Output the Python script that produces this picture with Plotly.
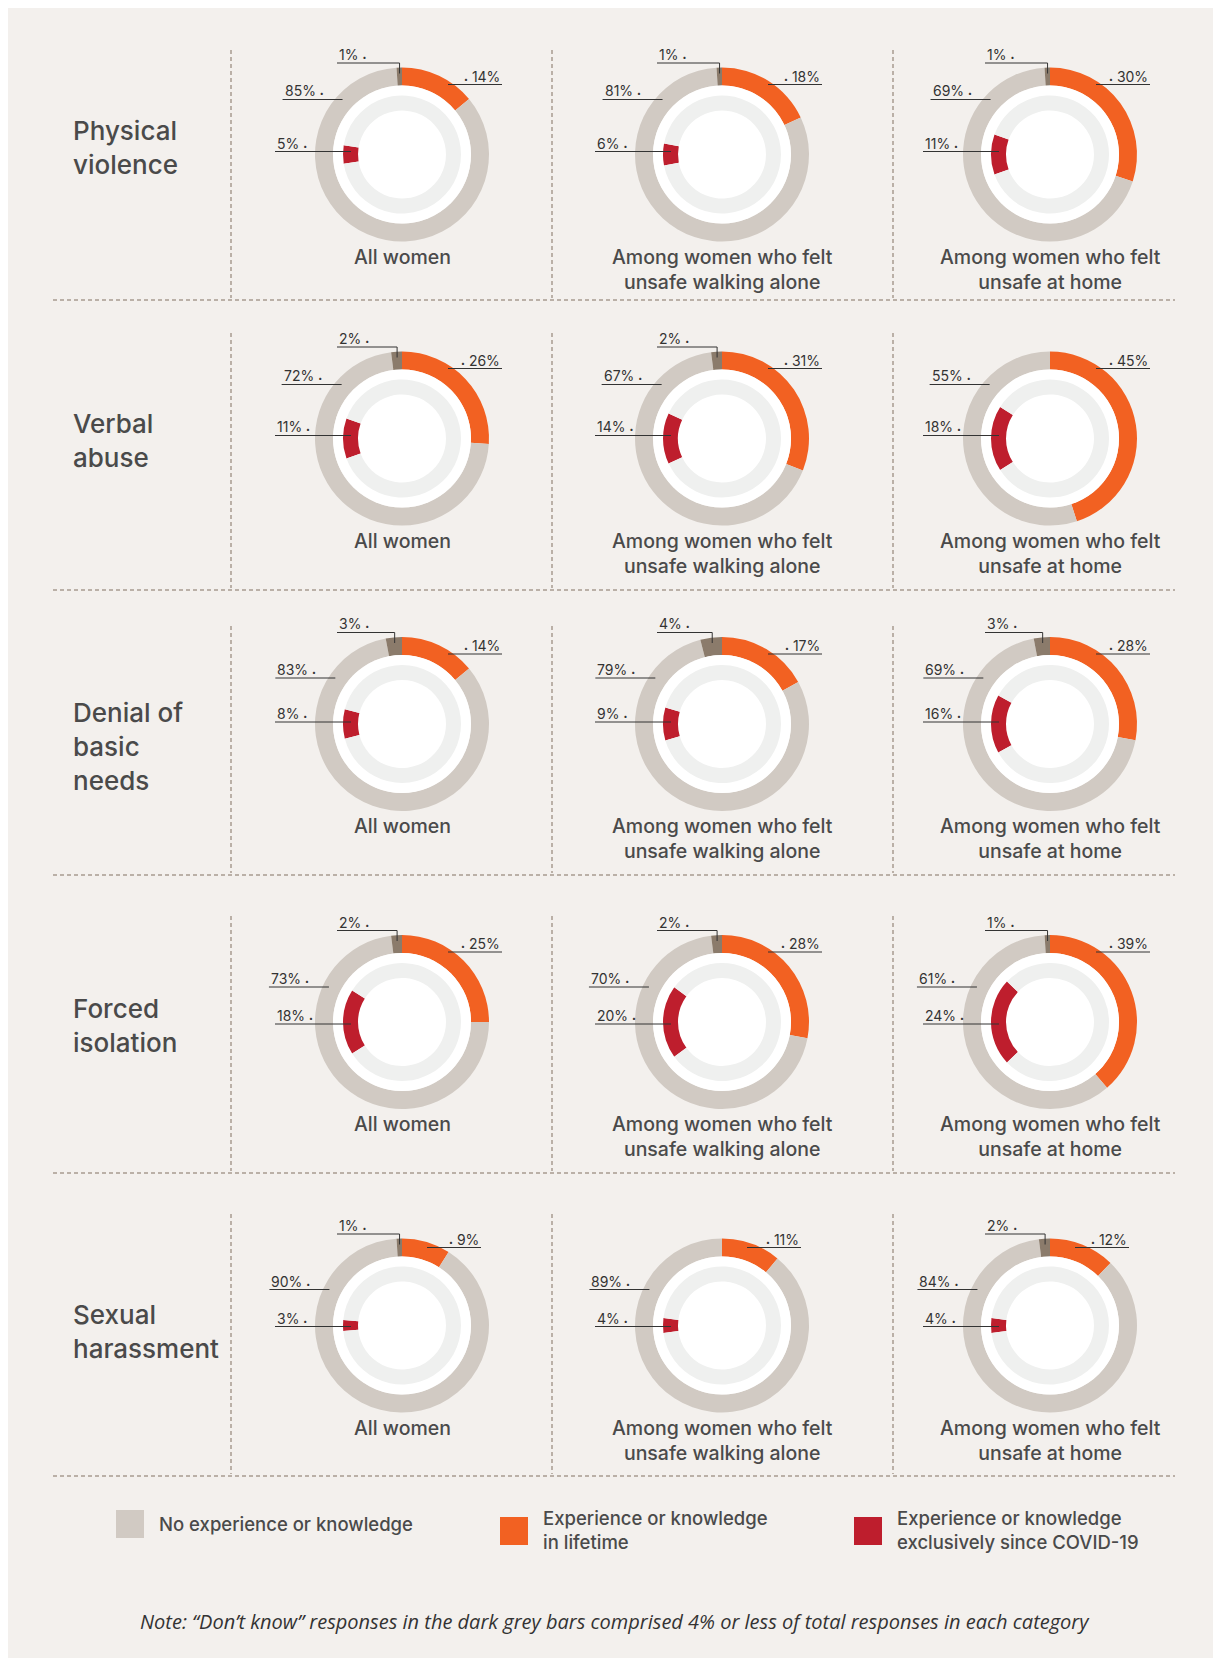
import math
import plotly.graph_objects as go

W, H = 1221, 1664
OFF = 8  # page body margin of the html page
FW, FH = W - OFF, H - OFF

# ---------------- data ----------------
ROW_TITLES = ["Physical<br>violence", "Verbal<br>abuse", "Denial of<br>basic<br>needs",
              "Forced<br>isolation", "Sexual<br>harassment"]
COL_LABELS = ["All women", "Among women who felt<br>unsafe walking alone",
              "Among women who felt<br>unsafe at home"]

# rows = violence type, cols = population group (values in %)
LIFETIME = [[14, 18, 30], [26, 31, 45], [14, 17, 28], [25, 28, 39], [9, 11, 12]]
NO_EXPERIENCE = [[85, 81, 69], [72, 67, 55], [83, 79, 69], [73, 70, 61], [90, 89, 84]]
DONT_KNOW = [[1, 1, 1], [2, 2, 0], [3, 4, 3], [2, 2, 1], [1, 0, 2]]
SINCE_COVID = [[5, 6, 11], [11, 14, 18], [8, 9, 16], [18, 20, 24], [3, 4, 4]]

LEGEND_LABELS = ["No experience or knowledge", "Experience or knowledge<br>in lifetime",
                 "Experience or knowledge<br>exclusively since COVID-19"]
NOTE = "Note: \u201cDon\u2019t know\u201d responses in the dark grey bars comprised 4% or less of total responses in each category"

# ---------------- style / layout ----------------
BG = "#f3f0ed"
ORANGE = "#f26122"
GREY = "#d1cac3"
DARK = "#8b7b6b"
RED = "#be1e2d"
LIGHT = "#eff0ef"
WHITE = "#ffffff"
TXT = "#4a4a4a"
LBL = "#333333"
DIV = "#a89b90"
FONT = "Inter, 'Noto Sans', sans-serif"

COL_CX = [402, 722, 1050]
ROW_CY = [154.5, 438.5, 724, 1022, 1325.5]
R_OUT, R_WHITE, R_IN, R_IN_HOLE = 87, 69, 59, 44

GREY_DY = [-55, -54, -46, -35, -36]
RED_DY = [-3, -3, -2, 2, 1]
ORANGE_LINE = [(46, 100, -70)] * 4 + [(25, 79, -78)]
TITLE_CY = [147.5, 440, 746, 1026, 1331]
HLINES = [300, 590, 875, 1173, 1476]
VSTART = [50, 333, 626, 916, 1214]
VLINES_X = [231, 552, 893]


def px(x):
    return (x - OFF) / FW


def py(y):
    return 1 - (y - OFF) / FH


def dom(cx, cy, r):
    return dict(x=[px(cx - r), px(cx + r)], y=[py(cy + r), py(cy - r)])


fig = go.Figure()
shapes = []
annotations = []

DOT = "<span style='font-size:7px'>\u2022</span>"


def line(x0, y0, x1, y1, color=LBL, width=1, dash=None):
    d = dict(type="line", xref="paper", yref="paper",
             x0=px(x0), y0=py(y0), x1=px(x1), y1=py(y1),
             line=dict(color=color, width=width))
    if dash:
        d["line"]["dash"] = dash
    shapes.append(d)


def label(x, y, text, anchor="left", size=14):
    annotations.append(dict(x=px(x), y=py(y), xref="paper", yref="paper", text=text,
                            xanchor=anchor, yanchor="bottom", showarrow=False, yshift=-2,
                            font=dict(family=FONT, size=size, color=LBL)))


# background panel
shapes.append(dict(type="rect", xref="paper", yref="paper", x0=px(8), x1=px(1215),
                   y0=py(1658), y1=py(8), fillcolor=BG, line=dict(width=0), layer="below"))

for i in range(5):
    for j in range(3):
        cx, cy = COL_CX[j], ROW_CY[i]
        lt, ne, dk, cv = LIFETIME[i][j], NO_EXPERIENCE[i][j], DONT_KNOW[i][j], SINCE_COVID[i][j]
        fig.add_trace(go.Pie(values=[lt, ne, dk], labels=["Lifetime", "No experience", "Don't know"],
                             marker=dict(colors=[ORANGE, GREY, DARK], line=dict(width=0)),
                             hole=R_WHITE / R_OUT, sort=False, direction="clockwise", rotation=0,
                             textinfo="none", hoverinfo="label+value", domain=dom(cx, cy, R_OUT),
                             showlegend=False))
        fig.add_trace(go.Pie(values=[1], labels=[""], marker=dict(colors=[WHITE], line=dict(width=0)),
                             sort=False, textinfo="none", hoverinfo="skip",
                             domain=dom(cx, cy, R_WHITE), showlegend=False))
        fig.add_trace(go.Pie(values=[cv, 100 - cv], labels=["Since COVID-19", "Other"],
                             marker=dict(colors=[RED, LIGHT], line=dict(width=0)),
                             hole=R_IN_HOLE / R_IN, sort=False, direction="clockwise",
                             rotation=270 - cv * 1.8, textinfo="none", hoverinfo="label+value",
                             domain=dom(cx, cy, R_IN), showlegend=False))

        # orange label
        ox0, ox1, ody = ORANGE_LINE[i]
        line(cx + ox0, cy + ody, cx + ox1, cy + ody)
        label(cx + ox1, cy + ody, f"{DOT} {lt}%", anchor="right")

        # grey label
        gdy = GREY_DY[i]
        gxr = cx - math.sqrt(81 ** 2 - gdy ** 2)
        gxl = gxr - 60
        line(gxl, cy + gdy, gxr, cy + gdy)
        label(gxl, cy + gdy, f"{ne}% {DOT}")

        # red label
        rdy = RED_DY[i]
        line(cx - 127, cy + rdy, cx - 51, cy + rdy)
        label(cx - 127, cy + rdy, f"{cv}% {DOT}")

        # don't know label
        if dk > 0:
            tx = cx + 78 * math.sin(math.radians(-dk * 1.8))
            line(cx - 65, cy - 91.5, tx, cy - 91.5)
            line(tx, cy - 91.5, tx, cy - 81)
            label(cx - 65, cy - 91.5, f"{dk}% {DOT}")

        # column sub label
        annotations.append(dict(x=px(cx), y=py(cy + 88), xref="paper", yref="paper",
                                text=COL_LABELS[j], xanchor="center", yanchor="top",
                                showarrow=False, align="center",
                                font=dict(family=FONT, size=19.5, color=TXT, weight=500)))

    # row title
    annotations.append(dict(x=px(71), y=py(TITLE_CY[i]), xref="paper", yref="paper",
                            text=ROW_TITLES[i], xanchor="left", yanchor="middle",
                            showarrow=False, align="left",
                            font=dict(family=FONT, size=26, color=TXT, weight=500)))

# dividers
for k, hy in enumerate(HLINES):
    line(53, hy, 1175, hy, color=DIV, width=1.5, dash="4px,3px")
    for vx in VLINES_X:
        line(vx, VSTART[k], vx, hy - 2, color=DIV, width=1.5, dash="4px,3px")

# legend
LEG_X = [116, 500, 854]
LEG_Y = [1510, 1517, 1517]
LEG_COLORS = [GREY, ORANGE, RED]
LEG_TY = [1524, 1530, 1530]
for k in range(3):
    shapes.append(dict(type="rect", xref="paper", yref="paper",
                       x0=px(LEG_X[k]), x1=px(LEG_X[k] + 28),
                       y0=py(LEG_Y[k] + 28), y1=py(LEG_Y[k]),
                       fillcolor=LEG_COLORS[k], line=dict(width=0)))
    annotations.append(dict(x=px(LEG_X[k] + 41), y=py(LEG_TY[k]), xref="paper", yref="paper",
                            text=LEGEND_LABELS[k], xanchor="left", yanchor="middle",
                            showarrow=False, align="left",
                            font=dict(family=FONT, size=18.5, color=TXT, weight=500)))

annotations.append(dict(x=px(615), y=py(1621), xref="paper", yref="paper", text=NOTE,
                        xanchor="center", yanchor="middle", showarrow=False,
                        font=dict(family="'Open Sans', sans-serif",
                                  size=20, color=LBL, style="italic")))

fig.update_layout(width=FW, height=FH, autosize=False,
                  margin=dict(l=0, r=0, t=0, b=0),
                  paper_bgcolor=WHITE, plot_bgcolor=WHITE,
                  shapes=shapes, annotations=annotations, showlegend=False)

fig.write_html("out.html")
